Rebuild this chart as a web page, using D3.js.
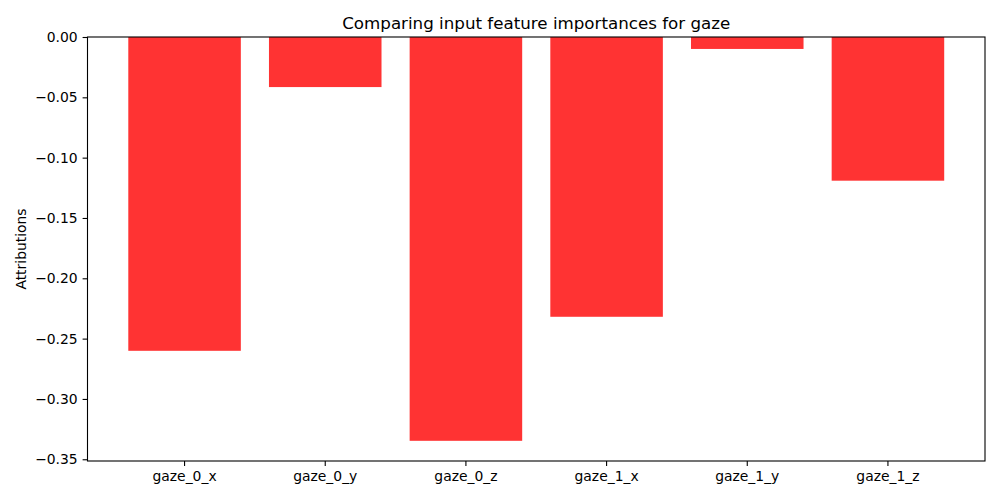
<!DOCTYPE html>
<html>
<head>
<meta charset="utf-8">
<style>
    body { margin: 0; background: #fff; }
    svg text { font-family: "DejaVu Sans", sans-serif; fill: #000; }
</style>
</head>
<body>
<svg id="chart" width="1000" height="500"></svg>
<script src="https://cdn.jsdelivr.net/npm/d3@7"></script>
<script>
    // values
    let features = ["gaze_0_x", "gaze_0_y", "gaze_0_z", "gaze_1_x", "gaze_1_y", "gaze_1_z"]
    let attributions = [-0.2601, -0.0415, -0.3347, -0.2319, -0.0099, -0.1191]
    let yTicks = [0, -0.05, -0.10, -0.15, -0.20, -0.25, -0.30, -0.35]

    let svg = d3.select("#chart")
    let plotLeft = 87.5, plotRight = 985, plotTop = 37, plotBottom = 461

    let minVal = d3.min(attributions)
    let yScale = d3.scaleLinear()
        .domain([minVal - 0.05 * (0 - minVal), 0])
        .range([plotBottom, plotTop])

    let xScale = d3.scaleBand()
        .domain(features)
        .range([plotLeft, plotRight])
        .paddingInner(0.2)
        .paddingOuter(0.29)

    svg.selectAll("rect.bar")
        .data(features)
        .enter()
        .append("rect")
        .attr("class", "bar")
        .attr("x", d => xScale(d))
        .attr("width", xScale.bandwidth())
        .attr("y", yScale(0))
        .attr("height", (d, i) => yScale(attributions[i]) - yScale(0))
        .attr("fill", "#ff3333")

    let fmt = d3.format(".2f")
    let yAxis = svg.append("g")
        .attr("transform", "translate(" + plotLeft + ",0)")
        .call(d3.axisLeft(yScale)
            .tickValues(yTicks)
            .tickFormat(d => fmt(d).replace("-", "\u2212"))
            .tickSize(4.9)
            .tickPadding(4.9))
    yAxis.select(".domain").remove()

    let xAxis = svg.append("g")
        .attr("transform", "translate(0," + plotBottom + ")")
        .call(d3.axisBottom(xScale)
            .tickSize(4.9)
            .tickPadding(4.9))
    xAxis.select(".domain").remove()

    svg.selectAll(".tick text").attr("font-size", "13.9px").attr("font-family", "DejaVu Sans")
    svg.selectAll(".tick line").attr("stroke", "#000").attr("stroke-width", 1.1)

    // axes frame
    svg.append("rect")
        .attr("x", plotLeft)
        .attr("y", plotTop)
        .attr("width", plotRight - plotLeft)
        .attr("height", plotBottom - plotTop)
        .attr("fill", "none")
        .attr("stroke", "#000")
        .attr("stroke-width", 1.1)

    svg.append("text")
        .attr("x", (plotLeft + plotRight) / 2)
        .attr("y", plotTop - 8)
        .attr("text-anchor", "middle")
        .attr("font-size", "16.7px")
        .text("Comparing input feature importances for gaze")

    svg.append("text")
        .attr("transform", "translate(26," + (plotTop + plotBottom) / 2 + ") rotate(-90)")
        .attr("text-anchor", "middle")
        .attr("font-size", "13.9px")
        .text("Attributions")
</script>
</body>
</html>
